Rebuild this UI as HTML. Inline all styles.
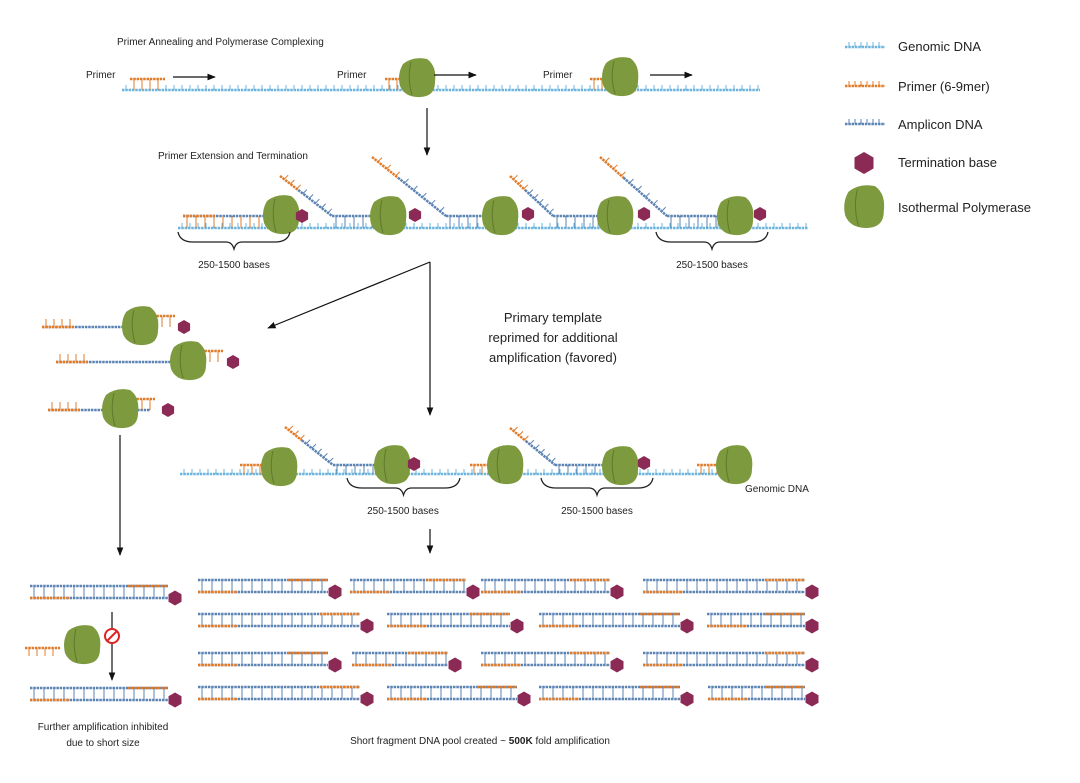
<!DOCTYPE html>
<html><head><meta charset="utf-8"><style>
body{margin:0;background:#fff;width:1080px;height:778px;overflow:hidden}
svg text{font-family:"Liberation Sans",sans-serif;fill:#222}
</style></head><body>
<svg id="s" width="1080" height="778" xmlns="http://www.w3.org/2000/svg">
<defs><marker id="ah" viewBox="0 0 10 10" refX="9" refY="5" markerWidth="7" markerHeight="7" orient="auto"><path d="M0,1 L10,5 L0,9z" fill="#111"/></marker></defs>
</svg>
<script>
const S=document.getElementById('s');const NS='http://www.w3.org/2000/svg';
const G='#6db4dc',O='#e07b2a',A='#5b83b3',H='#8c2a56',P='#7d9a3e';
function el(t,a,txt){const e=document.createElementNS(NS,t);for(const k in a)e.setAttribute(k,a[k]);if(txt)e.textContent=txt;S.appendChild(e);return e;}
function ln(x1,y1,x2,y2,c,w){el('line',{x1,y1,x2,y2,stroke:c,'stroke-width':w||2.5,'stroke-dasharray':'2.5 0.8'});}
function ticks(x1,x2,y1,y2,c,step){for(let x=x1+4;x<x2;x+=step||9)el('line',{x1:x,y1,x2:x,y2,stroke:c,'stroke-width':1});}
function hex(cx,cy,r){r=r||7;let p=[];for(let i=0;i<6;i++){const a=Math.PI/3*i+Math.PI/6;p.push((cx+r*Math.cos(a)).toFixed(1)+','+(cy+r*Math.sin(a)).toFixed(1));}el('polygon',{points:p.join(' '),fill:H});}
function pol(cx,cy,s){s=s||1;el('path',{d:`M${cx-14*s},${cy-14*s} Q${cx-4*s},${cy-22*s} ${cx+10*s},${cy-19*s} Q${cx+20*s},${cy-12*s} ${cx+18*s},${cy+4*s} Q${cx+18*s},${cy+18*s} ${cx+4*s},${cy+19*s} Q${cx-12*s},${cy+20*s} ${cx-17*s},${cy+8*s} Q${cx-20*s},${cy-4*s} ${cx-14*s},${cy-14*s}z`,fill:P});el('path',{d:`M${cx-6*s},${cy-16*s} Q${cx-10*s},${cy} ${cx-5*s},${cy+17*s}`,stroke:'#5f7a2c','stroke-width':1,fill:'none'});}
function txt(x,y,t,sz,anc,w){el('text',{x,y,'font-size':sz||11,'text-anchor':anc||'start','font-weight':w||'normal'},t);}
function arr(x1,y1,x2,y2){el('line',{x1,y1,x2,y2,stroke:'#111','stroke-width':1.2,'marker-end':'url(#ah)'});}
function brace(x1,x2,y){const m=(x1+x2)/2;el('path',{d:`M${x1},${y} Q${x1+2},${y+10} ${x1+15},${y+10} L${m-8},${y+10} Q${m-2},${y+10} ${m},${y+17} Q${m+2},${y+10} ${m+8},${y+10} L${x2-15},${y+10} Q${x2-2},${y+10} ${x2},${y}`,stroke:'#222','stroke-width':1.3,fill:'none'});}
function primer(x1,x2,y,gy){ln(x1,y,x2,y,O);ticks(x1,x2,y,gy,O,8);}
function frag(x1,x2,y){const b=y+12;ticks(x1,x2,y,b,A,10);ln(x1,y,x2,y,A);ln(x2-40,y,x2,y,O);ln(x1,b,x2,b,A);ln(x1,b,x1+40,b,O);hex(x2+7,b,7.5);}
function diag(x1,y1,x2,y2){const mx=x1+(x2-x1)*0.35,my=y1+(y2-y1)*0.35;ln(x1,y1,mx,my,O);ln(mx,my,x2,y2,A);
 for(let t=0.08;t<1;t+=0.12){const x=x1+(x2-x1)*t,y=y1+(y2-y1)*t;el('line',{x1:x,y1:y,x2:x+4,y2:y-4,stroke:t<0.35?O:A,'stroke-width':1});}}
// Row1
txt(117,45,'Primer Annealing and Polymerase Complexing',10);
ln(122,90,760,90,G);ticks(122,760,90,85,G,8);
txt(86,78,'Primer',10);primer(130,165,79,90);arr(173,77,215,77);
txt(337,78,'Primer',10);primer(385,408,79,90);pol(417,78);arr(434,75,476,75);
txt(543,78,'Primer',10);primer(590,610,79,90);pol(620,77);arr(650,75,692,75);
arr(427,108,427,155);
// Row2
txt(158,159,'Primer Extension and Termination',10);
ln(178,228,808,228,G);ticks(178,808,228,223,G,8);
ln(183,216,268,216,A);ln(183,216,215,216,O);ticks(183,268,216,228,O,9);pol(281,215);hex(302,216);
diag(280,176,332,216);ln(332,216,383,216,A);ticks(332,383,216,228,A,9);pol(388,216);hex(415,215);
diag(372,157,446,216);ln(446,216,497,216,A);ticks(446,497,216,228,A,9);pol(500,216);hex(528,214);
diag(510,176,553,216);ln(553,216,610,216,A);ticks(553,610,216,228,A,9);pol(615,216);hex(644,214);
diag(600,157,667,216);ln(667,216,730,216,A);ticks(667,730,216,228,A,9);pol(735,216);hex(760,214);
brace(178,290,232);txt(234,268,'250-1500 bases',10,'middle');
brace(656,768,232);txt(712,268,'250-1500 bases',10,'middle');
arr(430,262,268,328);arr(430,262,430,415);
txt(553,322,'Primary template',13,'middle');txt(553,342,'reprimed for additional',13,'middle');txt(553,362,'amplification (favored)',13,'middle');
// Left group
function lf(x1,x2,y,px,hx){ln(x1,y,x2,y,A);ln(x1,y,x1+32,y,O);ticks(x1,x1+32,y,y-8,O,8);ln(px-10,y-11,px+35,y-11,O);ticks(px+10,px+35,y-11,y,O,8);pol(px,y-1);hex(hx,y,7);}
lf(42,155,327,140,184);lf(56,195,362,188,233);lf(48,150,410,120,168);
arr(120,435,120,555);
// Row3
ln(180,474,740,474,G);ticks(180,740,474,469,G,8);
primer(240,265,465,474);pol(279,467);
diag(285,427,333,465);ln(333,465,385,465,A);ticks(333,385,465,474,A,9);pol(392,465);hex(414,464);
primer(470,495,465,474);pol(505,465);
diag(510,428,555,465);ln(555,465,612,465,A);ticks(555,612,465,474,A,9);pol(620,466);hex(644,463);
primer(697,722,465,474);pol(734,465);
txt(745,492,'Genomic DNA',10);
brace(347,460,478);txt(403,514,'250-1500 bases',10,'middle');
brace(541,653,478);txt(597,514,'250-1500 bases',10,'middle');
arr(430,529,430,553);
// Pool
[[580,[[198,328],[350,466],[481,610],[643,805]]],[614,[[198,360],[387,510],[539,680],[707,805]]],
 [653,[[198,328],[352,448],[481,610],[643,805]]],[687,[[198,360],[387,517],[539,680],[708,805]]]]
.forEach(r=>r[1].forEach(f=>frag(f[0],f[1],r[0])));
frag(30,168,586);frag(30,168,688);
ln(25,648,60,648,O);ticks(25,60,648,656,O,8);pol(82,645,1);
arr(112,612,112,680);el('circle',{cx:112,cy:636,r:7,fill:'#fff',stroke:'#d22','stroke-width':2});el('line',{x1:107,y1:641,x2:117,y2:631,stroke:'#d22','stroke-width':2});
txt(103,730,'Further amplification inhibited',10,'middle');txt(103,746,'due to short size',10,'middle');
el('text',{x:480,y:744,'font-size':10,'text-anchor':'middle'}).innerHTML='Short fragment DNA pool created ~ <tspan font-weight="bold">500K</tspan> fold amplification';
// Legend
ln(845,47,885,47,G);ticks(845,885,47,42,G,6);txt(898,51,'Genomic DNA',13);
ln(845,86,885,86,O);ticks(845,885,86,81,O,6);txt(898,91,'Primer (6-9mer)',13);
ln(845,124,885,124,A);ticks(845,885,124,119,A,6);txt(898,129,'Amplicon DNA',13);
hex(864,163,11);txt(898,167,'Termination base',13);
pol(864,207,1.1);txt(898,212,'Isothermal Polymerase',13);
</script>
</body></html>
